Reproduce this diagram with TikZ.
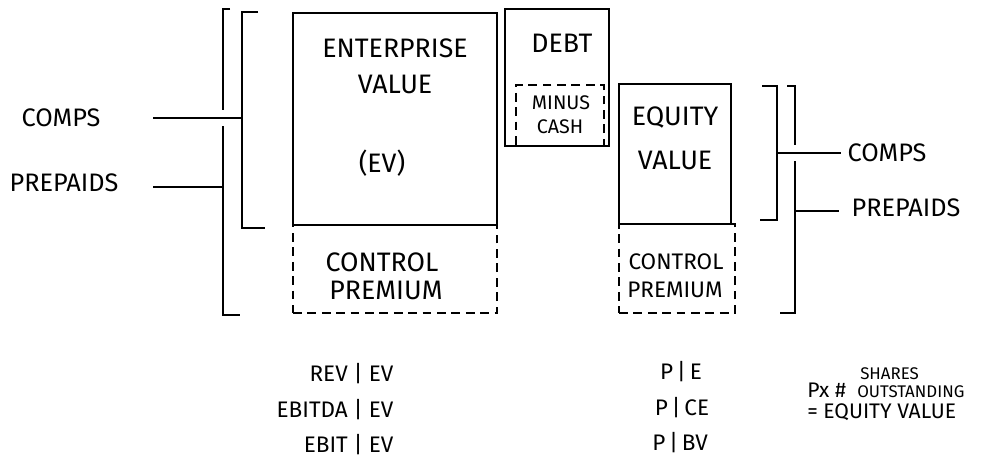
\documentclass[tikz,border=0pt]{standalone}
\usepackage{fontspec}
\setmainfont{Fira Sans}
\usetikzlibrary{fit}
\begin{document}
\begin{tikzpicture}[x=0.25mm, y=-0.25mm,
    block/.style={draw, line width=1.6pt, inner sep=0pt},
    dblock/.style={draw, line width=1.6pt, dash pattern=on 2.2mm off 1.4mm, inner sep=0pt},
    brace/.style={line width=1.6pt},
    lbl/.style={font=\fontsize{19}{21}\selectfont, inner sep=1pt},
    side/.style={font=\fontsize{18}{20}\selectfont, inner sep=1pt},
    ratio/.style={font=\fontsize{16}{18}\selectfont, inner sep=1pt},
    mid/.style={font=\fontsize{16}{18}\selectfont, inner sep=0pt},
    small/.style={font=\fontsize{14}{16}\selectfont, inner sep=0pt},
    note/.style={font=\fontsize{15}{16}\selectfont, inner sep=0pt},
    tiny/.style={font=\fontsize{12}{13}\selectfont, inner sep=0pt}
]
\useasboundingbox (0,0) rectangle (1008,474);

\coordinate (evA) at (293,13);
\coordinate (evB) at (497,225);
\coordinate (cpA) at (293,225);
\coordinate (cpB) at (497,313);
\coordinate (dbA) at (505,9);
\coordinate (dbB) at (609,146);
\coordinate (mcA) at (516,85);
\coordinate (mcB) at (604,146);
\coordinate (eqA) at (619,84);
\coordinate (eqB) at (731,224);
\coordinate (cqA) at (619,224);
\coordinate (cqB) at (735,313);

% bloky
\node[block, fit=(evA)(evB)] (ev) {};
\node[dblock, fit=(cpA)(cpB)] (evcp) {};
\node[block, fit=(dbA)(dbB)] (debt) {};
\node[dblock, fit=(mcA)(mcB)] (cash) {};
\node[block, fit=(eqA)(eqB)] (eqv) {};
\node[dblock, fit=(cqA)(cqB)] (eqcp) {};

% texty v blokoch
\node[lbl] (evt1) at (395,48) {ENTERPRISE};
\node[lbl] (evt2) at (395,84) {VALUE};
\node[lbl] (evt3) at (382,163) {(EV)};
\node[lbl] (cpt1) at (382,262) {CONTROL};
\node[lbl] (cpt2) at (386,290) {PREMIUM};
\node[lbl] (dbt) at (562,43) {DEBT};
\node[small] (mct1) at (561,103) {MINUS};
\node[small] (mct2) at (560,127) {CASH};
\node[lbl] (eqt1) at (675,118) {EQUITY};
\node[lbl] (eqt2) at (675,160) {VALUE};
\node[mid] (cqt1) at (676,262) {CONTROL};
\node[mid] (cqt2) at (675,290) {PREMIUM};

% zátvorky vľavo
\draw[brace] (230,9) -- (223,9) -- (223,110);
\draw[brace] (223,126) -- (223,315) -- (240,315);
\draw[brace] (258,12) -- (242,12) -- (242,228) -- (265,228);
\coordinate (lin) at (242,118);
\coordinate (lout) at (223,187);

% zátvorky vpravo
\draw[brace] (762,86) -- (777,86) -- (777,220) -- (760,220);
\draw[brace] (787,86) -- (795,86) -- (795,145);
\draw[brace] (795,161) -- (795,313) -- (780,313);
\coordinate (rin) at (777,153);
\coordinate (rout) at (795,211);

% porovnania
\node[side, anchor=west] (compsL) at (20,118) {COMPS};
\node[side, anchor=west] (prepL) at (8,183) {PREPAIDS};
\node[side, anchor=west] (compsR) at (846,153) {COMPS};
\node[side, anchor=west] (prepR) at (850,208) {PREPAIDS};
\coordinate (compsLe) at (153,118);
\coordinate (prepLe) at (153,187);
\coordinate (compsRe) at (841,153);
\coordinate (prepRe) at (839,211);
\draw[brace] (compsLe) -- (lin);
\draw[brace] (prepLe) -- (lout);
\draw[brace] (rin) -- (compsRe);
\draw[brace] (rout) -- (prepRe);

% násobky
\node[ratio, anchor=east] (rev) at (395,374) {REV | EV};
\node[ratio, anchor=east] (ebitda) at (395,410) {EBITDA | EV};
\node[ratio, anchor=east] (ebit) at (395,445) {EBIT | EV};
\node[ratio] (pe) at (681,372) {P\,|\,E};
\node[ratio] (pce) at (682,408) {P\,|\,CE};
\node[ratio] (pbv) at (680,443) {P\,|\,BV};

% poznámka
\node[note, anchor=west] (px) at (807,390) {Px \#};
\node[tiny, anchor=west] (shr) at (860,374) {SHARES};
\node[tiny, anchor=west] (outs) at (857,392) {OUTSTANDING};
\node[note, anchor=west] (eqn) at (807,412) {= EQUITY VALUE};

\end{tikzpicture}
\end{document}
